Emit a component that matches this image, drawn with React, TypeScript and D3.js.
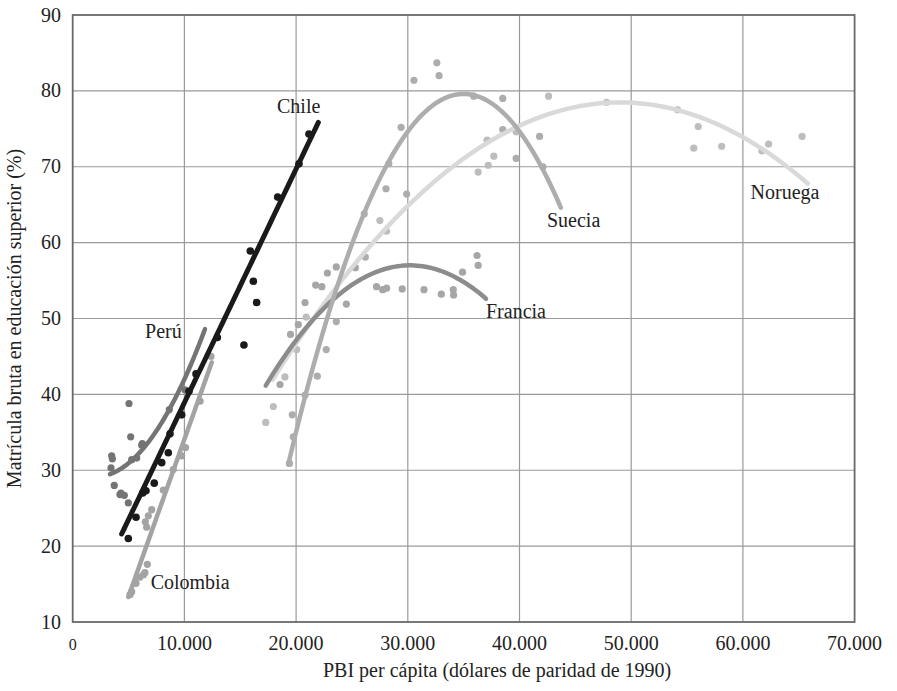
import React from "react";
import * as d3 from "d3";

// x values in thousands of 1990 dollars, y in %
const xTicks = [0, 10, 20, 30, 40, 50, 60, 70];
const xTickLabels = ["0", "10.000", "20.000", "30.000", "40.000", "50.000", "60.000", "70.000"];
const yTicks = [10, 20, 30, 40, 50, 60, 70, 80, 90];

const chilePoints: [number, number][] = [
  [4.98, 21.0], [5.67, 23.8], [6.27, 27.0], [6.56, 27.3], [7.3, 28.3], [7.97, 31.0],
  [8.56, 32.3], [8.71, 34.8], [9.76, 37.3], [10.41, 40.4], [11.04, 42.7], [12.95, 47.5],
  [15.33, 46.5], [15.9, 58.9], [16.17, 54.9], [16.47, 52.1], [18.35, 66.0], [20.26, 70.4],
  [21.15, 74.3],
];
const peruPoints: [number, number][] = [
  [3.43, 30.3], [3.49, 31.9], [3.55, 31.5], [3.72, 28.0], [4.23, 26.8], [4.32, 27.0],
  [4.62, 26.7], [4.98, 25.7], [5.04, 38.8], [5.19, 34.4], [5.28, 31.4], [5.73, 31.6],
  [6.18, 33.3], [6.23, 33.5], [8.65, 38.0], [10.05, 40.6],
];
const colombiaPoints: [number, number][] = [
  [5.13, 13.6], [5.28, 14.0], [5.67, 15.1], [6.0, 15.9], [6.32, 16.2], [6.47, 16.5],
  [6.68, 17.6], [6.5, 23.2], [6.62, 22.5], [6.77, 24.0], [7.07, 24.8], [8.11, 27.4],
  [9.0, 30.1], [9.76, 31.9], [10.1, 33.0], [11.4, 39.1], [12.38, 45.0],
];
const franciaPoints: [number, number][] = [
  [18.56, 41.3], [19.5, 47.9], [20.2, 49.2], [20.8, 52.1], [21.75, 54.4], [22.3, 54.2],
  [22.8, 56.0], [23.6, 56.8], [24.5, 51.9], [25.3, 56.7], [27.2, 54.2], [27.75, 53.8],
  [28.1, 54.0], [29.5, 53.9], [31.45, 53.8], [33.0, 53.2], [34.07, 53.8], [34.1, 53.1],
  [34.9, 56.1], [36.2, 58.3], [36.3, 57.0],
];
const sueciaPoints: [number, number][] = [
  [19.4, 30.9], [19.75, 34.4], [19.66, 37.3], [20.8, 39.9], [21.9, 42.4], [22.7, 45.9],
  [23.6, 49.6], [26.2, 58.1], [26.1, 63.8], [28.05, 67.1], [28.3, 70.4], [29.4, 75.2],
  [29.9, 66.4], [30.55, 81.4], [32.6, 83.7], [32.8, 82.0], [35.9, 79.3], [38.5, 79.0],
  [38.5, 74.9], [39.7, 71.1], [41.8, 74.0], [42.1, 70.0],
];
const noruegaPoints: [number, number][] = [
  [17.28, 36.3], [17.96, 38.4], [19.0, 42.3], [20.05, 45.9], [20.9, 50.2], [27.5, 62.9],
  [28.1, 61.5], [36.3, 69.3], [37.1, 73.5], [37.2, 70.2], [37.7, 71.4], [39.7, 74.6],
  [42.6, 79.3], [47.8, 78.5], [54.15, 77.5], [55.6, 72.45], [56.0, 75.3], [58.1, 72.7],
  [61.7, 72.1], [62.3, 73.0], [65.3, 74.0],
];

// fitted trend: [xFrom, xTo, a, b, c] for y = a + b*x + c*x^2
const chileFit = [4.38, 21.99, 8.11, 3.08, 0];
const peruFit = [3.34, 11.84, 29.95, -0.81, 0.2014];
const colombiaFit = [4.98, 12.45, -7.32, 4.14, 0];
const franciaFit = [17.28, 37.0, -29.64, 5.738, -0.095];
const sueciaFit = [19.3, 43.7, -162.95, 13.86, -0.198];
const noruegaFit = [17.9, 65.8, -12.26, 3.704, -0.0378];

const W = 897;
const H = 691;
const FONT = "'Liberation Serif', 'Times New Roman', serif";

export default function App() {
  const x = d3.scaleLinear().domain([0, 70]).range([72.7, 854.6]);
  const y = d3.scaleLinear().domain([10, 90]).range([622, 15]);

  const series = [
    { name: "Noruega", pts: noruegaPoints, fit: noruegaFit, line: "#d9d9d9", dot: "#bdbdbd", lw: 4.5, r: 3.6, label: [60.69, 65.76] },
    { name: "Francia", pts: franciaPoints, fit: franciaFit, line: "#8c8c8c", dot: "#a6a6a6", lw: 4.5, r: 3.6, label: [37.0, 50.12] },
    { name: "Suecia", pts: sueciaPoints, fit: sueciaFit, line: "#adadad", dot: "#adadad", lw: 4.5, r: 3.6, label: [42.46, 62.03] },
    { name: "Colombia", pts: colombiaPoints, fit: colombiaFit, line: "#a3a3a3", dot: "#a3a3a3", lw: 4.5, r: 3.6, label: [6.98, 14.33] },
    { name: "Perú", pts: peruPoints, fit: peruFit, line: "#747474", dot: "#747474", lw: 4.5, r: 3.6, label: [6.48, 47.44] },
    { name: "Chile", pts: chilePoints, fit: chileFit, line: "#1a1a1a", dot: "#1a1a1a", lw: 5, r: 3.8, label: [18.29, 77.09] },
  ];

  const lineGen = d3
    .line<[number, number]>()
    .x((d) => x(d[0]))
    .y((d) => y(d[1]));

  const trendPath = (fit: number[]) => {
    const [x0, x1, a, b, c] = fit;
    const n = 80;
    const pts: [number, number][] = d3.range(n + 1).map((i) => {
      const xv = x0 + ((x1 - x0) * i) / n;
      return [xv, a + b * xv + c * xv * xv];
    });
    return lineGen(pts) || "";
  };

  return (
    <svg
      width={W}
      height={H}
      style={{ position: "absolute", left: 0, top: 0, background: "#fff" }}
      fontFamily={FONT}
    >
      <rect x={0} y={0} width={W} height={H} fill="#fff" />
      {/* grid */}
      {xTicks.slice(1, -1).map((t) => (
        <line key={"gx" + t} x1={x(t)} x2={x(t)} y1={y(10)} y2={y(90)} stroke="#9a9a9a" strokeWidth={1.2} />
      ))}
      {yTicks.slice(1, -1).map((t) => (
        <line key={"gy" + t} x1={x(0)} x2={x(70)} y1={y(t)} y2={y(t)} stroke="#9a9a9a" strokeWidth={1.2} />
      ))}
      <rect x={x(0)} y={y(90)} width={x(70) - x(0)} height={y(10) - y(90)} fill="none" stroke="#6a6a6a" strokeWidth={1.8} />

      {/* points */}
      {series.map((s) =>
        s.pts.map((p, i) => (
          <circle key={s.name + i} cx={x(p[0])} cy={y(p[1])} r={s.r} fill={s.dot} />
        ))
      )}
      {/* trend lines */}
      {series.map((s) => (
        <path key={"t" + s.name} d={trendPath(s.fit)} fill="none" stroke={s.line} strokeWidth={s.lw} strokeLinecap="round" />
      ))}
      {/* labels */}
      {series.map((s) => (
        <text key={"l" + s.name} x={x(s.label[0])} y={y(s.label[1])} fontSize={20} fill="#222">
          {s.name}
        </text>
      ))}

      {/* axes labels */}
      {yTicks.map((t) => (
        <text key={"yt" + t} x={61} y={y(t) + 6.5} textAnchor="end" fontSize={20} fill="#222">
          {t}
        </text>
      ))}
      {xTicks.map((t, i) => (
        <text key={"xt" + t} x={x(t)} y={650} textAnchor="middle" fontSize={i === 0 ? 16 : 20} fill="#222">
          {xTickLabels[i]}
        </text>
      ))}
      <text x={323} y={677} fontSize={20} fill="#222">
        PBI per cápita (dólares de paridad de 1990)
      </text>
      <text transform={`translate(21, ${(y(10) + y(90)) / 2}) rotate(-90)`} textAnchor="middle" fontSize={20} fill="#222">
        Matrícula bruta en educación superior (%)
      </text>
    </svg>
  );
}
